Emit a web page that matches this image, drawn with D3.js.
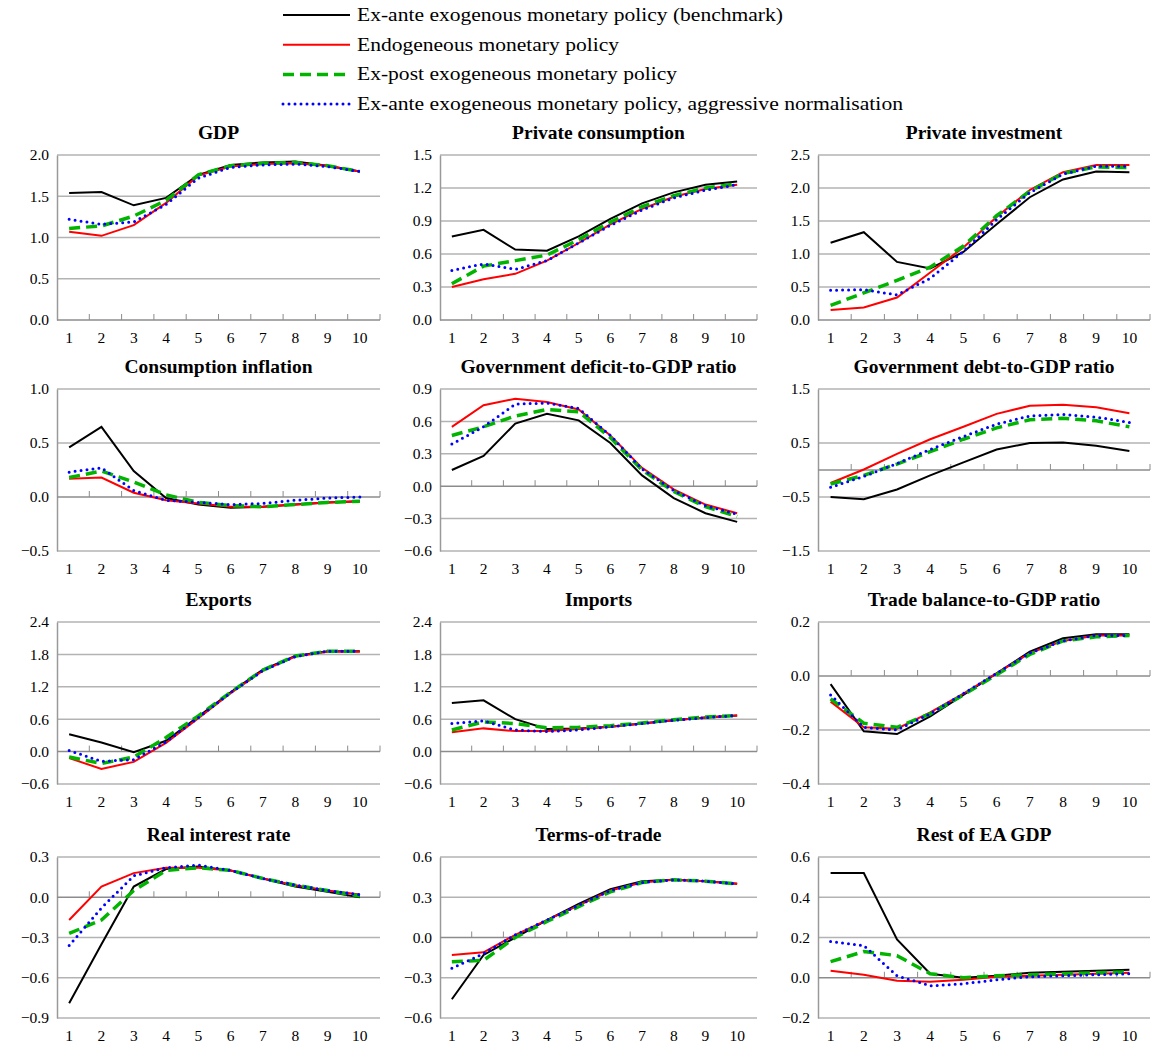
<!DOCTYPE html>
<html><head><meta charset="utf-8">
<script src="https://cdn.jsdelivr.net/npm/d3@7"></script>
<style>body{margin:0;background:#fff}svg text{font-family:"Liberation Serif","Times New Roman",serif}</style>
</head><body><svg id="c" width="1152" height="1047"></svg>
<script>
const periods = [1,2,3,4,5,6,7,8,9,10];
const seriesNames = ["Ex-ante exogenous monetary policy (benchmark)","Endogeneous monetary policy","Ex-post exogeneous monetary policy","Ex-ante exogeneous monetary policy, aggressive normalisation"];
const titles = ["GDP","Private consumption","Private investment","Consumption inflation","Government deficit-to-GDP ratio","Government debt-to-GDP ratio","Exports","Imports","Trade balance-to-GDP ratio","Real interest rate","Terms-of-trade","Rest of EA GDP"];
const yTicks = [
  [0,0.5,1.0,1.5,2.0],[0,0.3,0.6,0.9,1.2,1.5],[0,0.5,1.0,1.5,2.0,2.5],
  [-0.5,0,0.5,1.0],[-0.6,-0.3,0,0.3,0.6,0.9],[-1.5,-0.5,0.5,1.5],
  [-0.6,0,0.6,1.2,1.8,2.4],[-0.6,0,0.6,1.2,1.8,2.4],[-0.4,-0.2,0,0.2],
  [-0.9,-0.6,-0.3,0,0.3],[-0.6,-0.3,0,0.3,0.6],[-0.2,0,0.2,0.4,0.6]];
const benchmark = [
  [1.54,1.55,1.39,1.48,1.76,1.88,1.91,1.92,1.87,1.80],
  [0.76,0.82,0.64,0.63,0.76,0.92,1.06,1.16,1.23,1.26],
  [1.17,1.33,0.88,0.78,1.03,1.45,1.86,2.13,2.25,2.24],
  [0.46,0.65,0.24,-0.01,-0.07,-0.10,-0.09,-0.07,-0.05,-0.04],
  [0.15,0.28,0.58,0.67,0.61,0.40,0.10,-0.11,-0.25,-0.33],
  [-0.50,-0.54,-0.36,-0.10,0.14,0.38,0.50,0.51,0.45,0.35],
  [0.32,0.17,-0.01,0.20,0.65,1.10,1.52,1.77,1.86,1.86],
  [0.90,0.95,0.60,0.42,0.43,0.46,0.52,0.58,0.63,0.67],
  [-0.03,-0.205,-0.215,-0.15,-0.07,0.01,0.09,0.14,0.155,0.155],
  [-0.79,-0.35,0.08,0.21,0.23,0.20,0.14,0.08,0.04,0.00],
  [-0.46,-0.13,0.00,0.13,0.25,0.36,0.42,0.43,0.42,0.40],
  [0.52,0.52,0.19,0.02,0.00,0.01,0.025,0.03,0.035,0.04]];
const endogenous = [
  [1.07,1.02,1.15,1.42,1.75,1.86,1.89,1.90,1.87,1.80],
  [0.30,0.37,0.42,0.54,0.70,0.87,1.01,1.12,1.19,1.23],
  [0.15,0.19,0.34,0.72,1.10,1.56,1.97,2.24,2.35,2.35],
  [0.17,0.18,0.04,-0.03,-0.06,-0.09,-0.09,-0.07,-0.05,-0.04],
  [0.55,0.75,0.81,0.78,0.71,0.47,0.17,-0.03,-0.17,-0.25],
  [-0.24,0.01,0.30,0.57,0.80,1.04,1.19,1.21,1.16,1.05],
  [-0.12,-0.32,-0.19,0.16,0.62,1.08,1.50,1.76,1.85,1.85],
  [0.36,0.43,0.38,0.38,0.42,0.46,0.52,0.58,0.63,0.67],
  [-0.095,-0.19,-0.195,-0.135,-0.065,0.01,0.085,0.13,0.15,0.15],
  [-0.17,0.08,0.18,0.22,0.22,0.20,0.14,0.09,0.05,0.02],
  [-0.13,-0.11,0.02,0.13,0.24,0.35,0.41,0.43,0.42,0.40],
  [0.035,0.015,-0.015,-0.02,-0.01,0.005,0.01,0.015,0.02,0.025]];
const expost = [
  [1.11,1.14,1.26,1.45,1.76,1.87,1.90,1.91,1.87,1.80],
  [0.33,0.49,0.54,0.59,0.73,0.89,1.03,1.13,1.20,1.24],
  [0.22,0.41,0.60,0.80,1.12,1.58,1.95,2.22,2.32,2.31],
  [0.18,0.24,0.14,0.02,-0.05,-0.08,-0.09,-0.07,-0.05,-0.04],
  [0.47,0.55,0.65,0.71,0.69,0.45,0.15,-0.05,-0.19,-0.28],
  [-0.26,-0.10,0.11,0.34,0.57,0.78,0.93,0.96,0.91,0.80],
  [-0.10,-0.22,-0.10,0.26,0.66,1.10,1.51,1.77,1.86,1.86],
  [0.40,0.55,0.52,0.44,0.45,0.48,0.53,0.59,0.64,0.67],
  [-0.085,-0.175,-0.19,-0.14,-0.07,0.005,0.08,0.13,0.145,0.15],
  [-0.27,-0.17,0.05,0.20,0.22,0.20,0.14,0.09,0.05,0.01],
  [-0.18,-0.17,0.00,0.12,0.23,0.34,0.41,0.43,0.42,0.40],
  [0.08,0.13,0.11,0.02,0.00,0.01,0.015,0.02,0.025,0.03]];
const aggressive = [
  [1.22,1.16,1.19,1.40,1.72,1.85,1.88,1.89,1.86,1.80],
  [0.45,0.51,0.46,0.54,0.70,0.86,1.00,1.11,1.18,1.23],
  [0.45,0.46,0.38,0.63,1.04,1.52,1.93,2.21,2.33,2.33],
  [0.23,0.27,0.06,-0.03,-0.05,-0.07,-0.06,-0.03,-0.01,0.00],
  [0.39,0.55,0.76,0.77,0.72,0.47,0.16,-0.04,-0.18,-0.26],
  [-0.32,-0.12,0.12,0.38,0.62,0.85,1.00,1.03,0.98,0.88],
  [0.02,-0.18,-0.15,0.18,0.63,1.09,1.50,1.76,1.86,1.86],
  [0.52,0.57,0.40,0.37,0.40,0.46,0.52,0.58,0.63,0.67],
  [-0.07,-0.19,-0.20,-0.14,-0.065,0.01,0.085,0.13,0.15,0.15],
  [-0.36,-0.08,0.16,0.22,0.24,0.20,0.14,0.09,0.05,0.02],
  [-0.23,-0.12,0.02,0.13,0.24,0.35,0.41,0.43,0.42,0.40],
  [0.18,0.16,0.01,-0.04,-0.03,-0.01,0.005,0.01,0.015,0.02]];

const styles = [
  {color:"#000", w:2, dash:null, cap:"butt"},
  {color:"#ff0000", w:2, dash:null, cap:"butt"},
  {color:"#00b400", w:3.5, dash:"11,6", cap:"butt"},
  {color:"#0000ff", w:3, dash:"0,6", cap:"round"}];
const allSeries = [benchmark, endogenous, expost, aggressive];
const serif = "'Liberation Serif','Times New Roman',serif";
const legendWidths = [426, 262, 320, 546];

const svg = d3.select("#c");
// legend
seriesNames.forEach((n,i)=>{
  const y = 15 + i*29.7;
  const s = styles[i];
  svg.append("line").attr("x1",283).attr("x2",350).attr("y1",y).attr("y2",y)
    .attr("stroke",s.color).attr("stroke-width",s.w).attr("stroke-dasharray",s.dash).attr("stroke-linecap",s.cap);
  svg.append("text").attr("x",357).attr("y",y+6).attr("textLength",legendWidths[i]).attr("lengthAdjust","spacingAndGlyphs")
    .style("font-family",serif).style("font-size","19.5px").text(n);
});

const colX = [[57,380],[440,757],[818,1150]];
const rowY = [[155,320],[389,551],[622,784],[857,1018]];

titles.forEach((t,k)=>{
  const c = k%3, r = Math.floor(k/3);
  const [x0,x1] = colX[c], [y0,y1] = rowY[r];
  const ticks = yTicks[k];
  const x = d3.scaleBand().domain(periods).range([x0,x1]);
  const y = d3.scaleLinear().domain([ticks[0],ticks[ticks.length-1]]).range([y1,y0]);
  const g = svg.append("g");
  g.append("text").attr("x",(x0+x1)/2).attr("y",y0-16).attr("text-anchor","middle")
    .style("font-family",serif).style("font-size","19.5px").style("font-weight","bold").text(t);
  ticks.forEach(v=>{
    if (v===0) return;
    g.append("line").attr("x1",x0).attr("x2",x1).attr("y1",y(v)).attr("y2",y(v)).attr("stroke","#b3b3b3").attr("stroke-width",1.5);
  });
  const ya = g.append("g").attr("transform",`translate(${x0},0)`)
    .call(d3.axisLeft(y).tickValues(ticks).tickSize(0).tickPadding(8).tickFormat(d3.format(".1f")));
  ya.select(".domain").attr("stroke","#999").attr("stroke-width",1.5);
  ya.selectAll("text").style("font-size","15.5px").style("font-family",serif);
  // zero axis with ticks between categories
  const zy = y(0);
  g.append("line").attr("x1",x0).attr("x2",x1).attr("y1",zy).attr("y2",zy).attr("stroke","#8c8c8c").attr("stroke-width",1.5);
  periods.slice(1).forEach(p=>{
    g.append("line").attr("x1",x(p)).attr("x2",x(p)).attr("y1",zy-6).attr("y2",zy).attr("stroke","#8c8c8c");
  });
  g.append("line").attr("x1",x1).attr("x2",x1).attr("y1",zy-6).attr("y2",zy).attr("stroke","#8c8c8c");
  periods.forEach(p=>{
    g.append("text").attr("x",x(p)+x.bandwidth()/2-4).attr("y",y1+23).attr("text-anchor","middle")
      .style("font-family",serif).style("font-size","15.5px").text(p);
  });
  const line = d3.line().x((d,i)=>x(periods[i])+x.bandwidth()/2-4).y(d=>y(d));
  allSeries.forEach((ser,i)=>{
    const s = styles[i];
    g.append("path").attr("d",line(ser[k])).attr("fill","none").attr("stroke",s.color)
      .attr("stroke-width",s.w).attr("stroke-dasharray",s.dash).attr("stroke-linecap",s.cap);
  });
});
</script></body></html>
